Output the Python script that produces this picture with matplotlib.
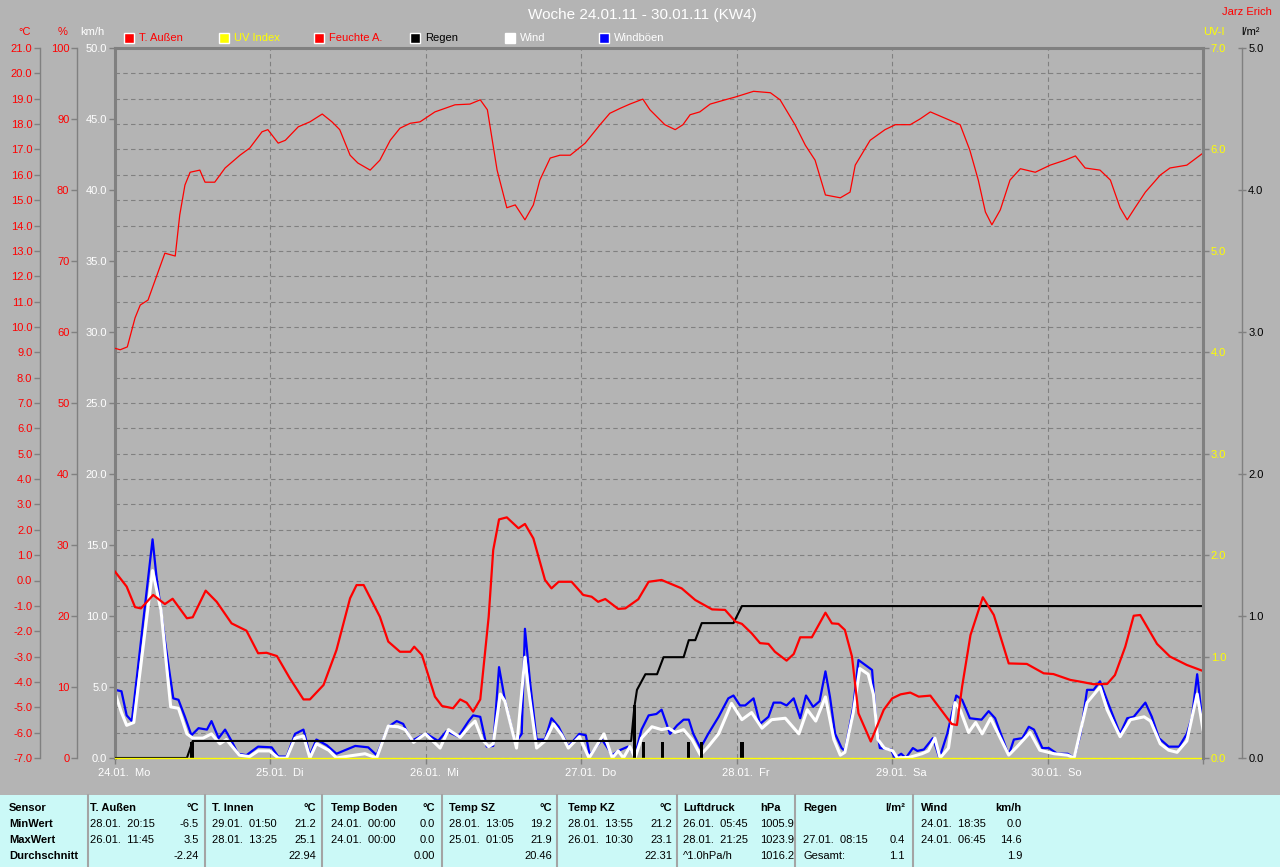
import numpy as np
import matplotlib
matplotlib.use("Agg")
import matplotlib.pyplot as plt
import matplotlib.transforms as mtransforms
from matplotlib.ticker import MultipleLocator, FormatStrFormatter
from matplotlib.patches import Rectangle

plt.rcParams['font.family'] = ['Liberation Sans', 'DejaVu Sans']

# ---- data (time axis: hours since 24.01. 00:00) ----
day_labels = ['24.01.  Mo', '25.01.  Di', '26.01.  Mi', '27.01.  Do',
              '28.01.  Fr', '29.01.  Sa', '30.01.  So']

temp_h = [0, 1.8, 3.1, 4, 5.9, 7.7, 8.9, 11.1, 12, 14,
          15.7, 18, 20.3, 22.1, 23.4, 25, 27, 29.1, 30.1, 32.2,
          34.2, 36.3, 37.3, 38.4, 40.9, 42.2, 44, 45.6, 46.2, 47.4,
          49.4, 50.5, 52.2, 53.3, 54.3, 55.3, 56.4, 57.7, 58.4, 59.3,
          60.5, 62.3, 63.3, 64.6, 66.4, 67.4, 68.5, 70.5, 72.3, 73.6,
          74.6, 75.7, 77.7, 78.8, 80.8, 82.4, 84.4, 87.5, 89.6, 92.2,
          94.2, 95.8, 96.8, 98.3, 99.6, 100.9, 101.9, 103.7, 104.8, 105.8,
          107.6, 109.7, 110.7, 111.7, 112.7, 113.8, 114.8, 116.7, 118.7, 120,
          121.3, 122.8, 124.1, 125.9, 127.2, 129.2, 130, 130.8, 132.1, 134,
          135.7, 138, 140.8, 143.4, 144.9, 147.5, 149.5, 151.1, 153.2, 154.4,
          156, 157.3, 158.3, 160.9, 162.9, 165.5, 167.8]
temp = [0.35, -0.24, -1.05, -1.1, -0.57, -0.93, -0.72, -1.49, -1.45, -0.40,
        -0.84, -1.69, -1.98, -2.87, -2.85, -2.98, -3.86, -4.69, -4.69, -4.12,
        -2.74, -0.70, -0.18, -0.18, -1.43, -2.41, -2.81, -2.81, -2.61, -2.94,
        -4.58, -4.95, -5.04, -4.69, -4.82, -5.17, -4.69, -1.43, 1.2, 2.41,
        2.49, 2.06, 2.23, 1.66, 0.02, -0.31, -0.05, -0.05, -0.57, -0.64,
        -0.84, -0.73, -1.12, -1.1, -0.74, -0.05, 0.02, -0.31, -0.77, -1.14,
        -1.16, -1.62, -1.71, -2.08, -2.47, -2.5, -2.81, -3.16, -2.9, -2.24,
        -2.24, -1.27, -1.69, -1.71, -1.95, -3.0, -5.24, -6.35, -5.1, -4.65,
        -4.49, -4.42, -4.58, -4.54, -4.98, -5.66, -5.7, -4.19, -2.15, -0.66,
        -1.36, -3.27, -3.29, -3.66, -3.69, -3.92, -4.01, -4.09, -4.08, -3.73,
        -2.61, -1.39, -1.36, -2.5, -3.0, -3.33, -3.55]

hum_h = [0, 0.8, 1.9, 3.1, 3.9, 5.1, 6.2, 7.7, 9.3, 10.0,
         10.8, 11.6, 13.1, 13.9, 15.4, 17.0, 19.3, 20.8, 22.7, 23.6,
         25.2, 26.3, 28.3, 30.1, 32.0, 33.5, 34.7, 36.3, 37.5, 39.4,
         40.9, 42.5, 44.0, 45.6, 47.1, 49.4, 52.5, 54.8, 56.4, 57.5,
         59.0, 60.5, 61.8, 63.3, 64.6, 65.6, 67.2, 68.7, 70.3, 72.6,
         74.9, 76.4, 78.0, 79.5, 81.5, 82.6, 84.9, 86.5, 87.7, 88.8,
         90.3, 91.9, 94.2, 95.8, 98.6, 101.2, 102.7, 105.0, 106.6, 108.1,
         109.7, 112.0, 113.5, 114.3, 116.6, 118.9, 120.5, 122.8, 124.3, 125.9,
         128.2, 130.5, 132.0, 133.3, 134.4, 135.4, 136.7, 138.2, 139.8, 142.1,
         144.4, 146.7, 148.3, 149.8, 152.1, 153.7, 155.2, 156.3, 157.5, 159.1,
         161.4, 162.9, 165.5, 168.0]
hum = [57.7, 57.5, 57.9, 62.0, 63.8, 64.5, 67.3, 71.1, 70.7, 76.5,
       80.7, 82.5, 82.8, 81.1, 81.1, 83.1, 84.9, 85.9, 88.2, 88.5,
       86.6, 87.0, 88.9, 89.6, 90.7, 89.6, 88.5, 84.9, 83.8, 82.8,
       84.2, 87.0, 88.7, 89.4, 89.6, 91.0, 92.0, 92.1, 92.7, 91.3,
       82.8, 77.5, 77.9, 75.8, 77.9, 81.4, 84.5, 84.9, 84.9, 86.6,
       89.2, 90.8, 91.5, 92.1, 92.8, 91.3, 89.2, 88.5, 89.2, 90.6,
       91.0, 92.1, 92.7, 93.1, 93.9, 93.7, 92.7, 89.2, 86.3, 84.2,
       79.3, 78.9, 79.7, 83.5, 87.0, 88.5, 89.2, 89.2, 90.0, 91.0,
       90.1, 89.2, 85.6, 81.4, 76.9, 75.1, 77.2, 81.4, 83.0, 82.5,
       83.5, 84.2, 84.8, 83.1, 82.8, 81.4, 77.5, 75.8, 77.5, 79.7,
       82.1, 83.1, 83.5, 85.2]

gust_h = [0, 1, 1.8, 2.6, 5.8, 6.4, 7.7, 9, 9.8, 10.8,
          11.8, 12.9, 14.2, 14.9, 16, 17, 18, 19, 20.3, 22.1,
          24.2, 25.2, 26.5, 27.8, 29.1, 30.1, 31.1, 32.7, 34.2, 37.1,
          39.1, 40.4, 42.2, 43.5, 44.5, 45.8, 47.4, 48.1, 49.9, 51.2,
          53, 54.6, 55.3, 56.4, 57.4, 58.4, 59.3, 60.2, 61.8, 62.8,
          63.3, 64.1, 65.1, 66.4, 67.4, 68.5, 70, 71.7, 72.7, 73.3,
          75.2, 76.8, 77.7, 79.2, 80.3, 81.3, 82.4, 83.6, 84.4, 85.7,
          86.8, 87.8, 88.6, 89.3, 90.4, 91.6, 93.2, 94.7, 95.5, 96.5,
          97.3, 98.6, 99.6, 100.9, 101.7, 102.8, 103.7, 104.8, 105.8, 106.7,
          107.8, 108.8, 109.7, 110.4, 111.2, 112.2, 112.7, 114, 114.8, 116.9,
          117.6, 118.1, 119.8, 120.4, 121.4, 122.1, 123.2, 123.9, 124.9, 126.3,
          127.3, 128.5, 129.9, 130.8, 132, 133.8, 134.9, 135.9, 138, 138.8,
          140.1, 141.1, 141.9, 143.2, 144.2, 145.5, 147.1, 148.1, 149.1, 150.1,
          151.1, 152.1, 153.4, 155.2, 156.3, 157.3, 159.1, 160.1, 161.2, 162.7,
          164.3, 165.5, 166.3, 167.1, 168]
gust = [4.8, 4.7, 3.0, 2.6, 15.4, 12.8, 8.3, 4.2, 4.1, 2.9,
        1.6, 2.1, 2.0, 2.6, 1.4, 2.0, 1.2, 0.3, 0.2, 0.8,
        0.75, 0.1, 0.1, 1.7, 2.0, 0.2, 1.3, 0.9, 0.3, 0.85,
        0.75, 0.2, 2.2, 2.6, 2.4, 1.2, 1.6, 1.7, 1.2, 1.9,
        1.5, 2.6, 3.0, 2.9, 0.8, 0.85, 6.4, 4.1, 1.05, 1.7,
        9.1, 5.3, 1.3, 1.3, 2.8, 2.2, 0.8, 1.7, 1.6, 0.2,
        1.3, 0.2, 0.5, 0.8, 0.2, 2.0, 3.0, 3.1, 3.4, 1.7,
        2.3, 2.7, 2.7, 1.7, 0.7, 1.7, 2.9, 4.2, 4.4, 3.7,
        3.7, 4.2, 2.4, 2.9, 3.9, 3.9, 3.7, 4.2, 2.8, 4.4,
        3.6, 4.0, 6.1, 4.3, 1.7, 0.7, 0.5, 3.6, 6.9, 6.2,
        2.2, 0.7, 0.6, 0, 0.3, 0, 0.7, 0.5, 0.6, 1.4,
        0, 1.7, 4.4, 4.1, 2.8, 2.7, 3.3, 2.8, 0.2, 1.3,
        1.4, 2.2, 2.0, 0.7, 0.7, 0.3, 0.3, 0, 1.7, 4.8,
        4.8, 5.4, 3.8, 1.7, 2.8, 2.9, 3.9, 2.9, 1.4, 0.8,
        0.8, 1.7, 2.9, 5.9, 2.2]

wind_h = [0, 1, 1.8, 2.9, 5.8, 7.1, 8.6, 9.8, 11.1, 12,
          13.6, 14.9, 16.2, 17.2, 19.2, 20.8, 22.1, 23.9, 25.2, 26.5,
          27.8, 29.1, 30.1, 31.1, 33, 34.2, 36.3, 38.6, 40.4, 42.2,
          43.7, 44.8, 46.1, 47.9, 50.2, 51.5, 53.3, 54.8, 55.6, 56.7,
          57.7, 58.4, 59.5, 60.2, 62, 63.3, 63.8, 65.1, 66.4, 67.7,
          69, 70, 71.7, 73.2, 75.5, 76.8, 77.7, 78.5, 79.5, 80.3,
          81.3, 82.9, 84.4, 85.5, 86.5, 87.8, 89.1, 90.4, 91.6, 93.2,
          95.2, 96.8, 98.3, 99.9, 101.4, 103.5, 105.6, 106.9, 108.2, 109.7,
          111, 112, 112.7, 114, 115, 116.3, 117.1, 117.8, 118.8, 120.1,
          120.8, 122.7, 124.6, 125.6, 126.6, 127.4, 128.7, 129.7, 130.5, 131.8,
          132.9, 133.9, 135.2, 138, 139.3, 141.3, 142.8, 145, 147.1, 148.1,
          150.1, 152.1, 153.2, 155.2, 156.8, 158.9, 159.9, 161.4, 162.7, 164,
          165.5, 167.1, 168]
wind = [4.6, 3.2, 2.3, 2.5, 13.2, 10.4, 3.6, 3.5, 1.7, 1.4,
        1.4, 1.7, 1.0, 1.3, 0.2, 0.1, 0.5, 0.5, 0, 0,
        1.4, 1.55, 0, 1.0, 0.55, 0, 0.15, 0.3, 0, 2.25,
        2.2, 2.0, 1.1, 1.7, 0.7, 2.0, 1.45, 2.25, 2.6, 1.3,
        0.8, 1.0, 4.5, 4.0, 0.7, 7.1, 5.0, 0.7, 1.2, 2.4,
        1.6, 0.7, 1.5, 0, 1.7, 0, 0.5, 0, 0.8, 0,
        1.4, 2.2, 2.0, 2.1, 1.8, 2.0, 1.3, 0.2, 0.8, 1.7,
        3.85, 2.7, 3.2, 2.1, 2.7, 2.8, 1.7, 3.4, 2.6, 4.3,
        1.3, 0.2, 0.4, 3.2, 6.3, 5.9, 4.5, 1.3, 0.7, 0.5,
        0, 0.05, 0.3, 0.5, 1.4, 0, 0.7, 3.9, 3.4, 1.8,
        2.5, 1.7, 2.8, 0.2, 0.8, 1.8, 0.55, 0.3, 0.2, 0,
        3.9, 5.0, 3.4, 1.5, 2.7, 2.9, 2.6, 1.0, 0.55, 0.4,
        1.2, 4.5, 2.0]

rain_cum_h = [0, 11.1, 12.0, 79.7, 80.2, 80.6, 81.9, 83.7, 84.7, 87.8,
              88.6, 89.6, 90.6, 95.5, 96.8, 168]
rain_cum = [0, 0, 0.12, 0.12, 0.36, 0.48, 0.59, 0.59, 0.71, 0.71,
            0.83, 0.83, 0.95, 0.95, 1.07, 1.07]
rain_bar_h = [11.9, 80.25, 81.6, 84.5, 88.5, 90.6, 96.8]
rain_bar = [0.11, 0.37, 0.11, 0.11, 0.11, 0.11, 0.11]

uv_h = [0, 168]
uv = [0, 0]

legend_labels = ['T. Außen', 'UV Index', 'Feuchte A.', 'Regen', 'Wind', 'Windböen']
legend_box = ['#ff0000', '#ffff00', '#ff0000', '#000000', '#ffffff', '#0000ff']
legend_text = ['#ff0000', '#ffff00', '#ff0000', '#000000', '#ffffff', '#ffffff']

row_labels = ['Sensor', 'MinWert', 'MaxWert', 'Durchschnitt']
tab_sensor = ['T. Außen', 'T. Innen', 'Temp Boden', 'Temp SZ', 'Temp KZ',
              'Luftdruck', 'Regen', 'Wind']
tab_unit = ['°C', '°C', '°C', '°C', '°C', 'hPa', 'l/m²', 'km/h']
tab_min_time = ['28.01.  20:15', '29.01.  01:50', '24.01.  00:00', '28.01.  13:05',
                '28.01.  13:55', '26.01.  05:45', '', '24.01.  18:35']
tab_min_val = ['-6.5', '21.2', '0.0', '19.2', '21.2', '1005.9', '', '0.0']
tab_max_time = ['26.01.  11:45', '28.01.  13:25', '24.01.  00:00', '25.01.  01:05',
                '26.01.  10:30', '28.01.  21:25', '27.01.  08:15', '24.01.  06:45']
tab_max_val = ['3.5', '25.1', '0.0', '21.9', '23.1', '1023.9', '0.4', '14.6']
tab_avg_note = ['', '', '', '', '', '^1.0hPa/h', 'Gesamt:', '']
tab_avg_val = ['-2.24', '22.94', '0.00', '20.46', '22.31', '1016.2', '1.1', '1.9']

# ---- figure ----
BG = '#b4b4b4'
GRID = '#808080'
W, H = 1280, 867
L, R, T, B = 115, 1203, 48, 758

fig = plt.figure(figsize=(W / 100, H / 100), dpi=100, facecolor=BG)

# overlay in pixel coordinates for header and table
ov = fig.add_axes([0, 0, 1, 1])
ov.set_xlim(0, W)
ov.set_ylim(H, 0)
ov.axis('off')

ax = fig.add_axes([L / W, 1 - B / H, (R - L) / W, (B - T) / H])
ax.set_facecolor(BG)
ax_r = ax.twinx()
ax_t = ax.twinx()
ax_h = ax.twinx()
ax_uv = ax.twinx()

ax.set_xlim(0, 168)
ax.set_ylim(0, 50)
ax_t.set_ylim(-7, 21)
ax_h.set_ylim(0, 100)
ax_uv.set_ylim(0, 7)
ax_r.set_ylim(0, 5)

for a in (ax, ax_r, ax_t, ax_h, ax_uv):
    for s in a.spines.values():
        s.set_visible(False)

# main km/h axis
ax.spines['left'].set_visible(True)
ax.spines['top'].set_visible(True)
for s in ('left', 'top'):
    ax.spines[s].set_color(GRID)
    ax.spines[s].set_linewidth(2.2)
ax.yaxis.set_major_locator(MultipleLocator(5))
ax.yaxis.set_major_formatter(FormatStrFormatter('%.1f'))
ax.yaxis.set_minor_locator(MultipleLocator(50 / 28))
ax.yaxis.remove_overlapping_locs = False
ax.tick_params(axis='y', which='major', direction='out', length=4, width=1,
               color=GRID, labelcolor='white', labelsize=8, pad=1.5)
ax.tick_params(axis='y', which='minor', length=0)
ax.grid(which='minor', axis='y', color=GRID, linestyle=(0, (4, 3)), linewidth=0.8)

ax.set_xticks(np.arange(0, 169, 24))
ax.set_xticklabels(day_labels + [''])
ax.grid(which='major', axis='x', color=GRID, linestyle=(0, (4, 3)), linewidth=0.8)
ax.tick_params(axis='x', direction='out', length=4, width=1, color=GRID,
               labelcolor='white', labelsize=8, pad=3)
shift = mtransforms.ScaledTranslation(0.09, 0, fig.dpi_scale_trans)
for lab in ax.get_xticklabels():
    lab.set_transform(lab.get_transform() + shift)

# temperature axis (far left)
ax_t.yaxis.tick_left()
ax_t.spines['left'].set_visible(True)
ax_t.spines['left'].set_position(('axes', (40 - L) / (R - L)))
ax_t.spines['left'].set_color(GRID)
ax_t.spines['left'].set_linewidth(1)
ax_t.yaxis.set_major_locator(MultipleLocator(1))
ax_t.yaxis.set_major_formatter(FormatStrFormatter('%.1f'))
ax_t.tick_params(axis='y', direction='out', length=4, width=1, color=GRID,
                 labelcolor='#ff0000', labelsize=8, pad=1.5)

# humidity axis
ax_h.yaxis.tick_left()
ax_h.spines['left'].set_visible(True)
ax_h.spines['left'].set_position(('axes', (77 - L) / (R - L)))
ax_h.spines['left'].set_color(GRID)
ax_h.spines['left'].set_linewidth(1)
ax_h.yaxis.set_major_locator(MultipleLocator(10))
ax_h.yaxis.set_major_formatter(FormatStrFormatter('%d'))
ax_h.tick_params(axis='y', direction='out', length=4, width=1, color=GRID,
                 labelcolor='#ff0000', labelsize=8, pad=1.5)

# UV axis (right edge of plot)
ax_uv.spines['right'].set_visible(True)
ax_uv.spines['right'].set_color(GRID)
ax_uv.spines['right'].set_linewidth(2.2)
ax_uv.yaxis.set_major_locator(MultipleLocator(1))
ax_uv.yaxis.set_major_formatter(FormatStrFormatter('%.1f'))
ax_uv.tick_params(axis='y', direction='out', length=4, width=1, color=GRID,
                  labelcolor='#ffff00', labelsize=8, pad=1.5)

# rain axis (far right)
ax_r.spines['right'].set_visible(True)
ax_r.spines['right'].set_position(('axes', (1242 - L) / (R - L)))
ax_r.spines['right'].set_color(GRID)
ax_r.spines['right'].set_linewidth(1)
ax_r.yaxis.set_major_locator(MultipleLocator(1))
ax_r.yaxis.set_major_formatter(FormatStrFormatter('%.1f'))
ax_r.tick_params(axis='y', direction='inout', length=6, width=1, color=GRID,
                 labelcolor='black', labelsize=8, pad=1.5)

# series
ax.plot(gust_h, gust, color='#0000ff', lw=1.6)
ax.plot(wind_h, wind, color='white', lw=2.2)
ax_r.bar(rain_bar_h, rain_bar, width=0.5, color='black')
ax_r.plot(rain_cum_h, rain_cum, color='black', lw=1.5)
ax_t.plot(temp_h, temp, color='#ff0000', lw=1.6)
ax_h.plot(hum_h, hum, color='#ff0000', lw=0.9)
ax_uv.plot(uv_h, uv, color='#ffff00', lw=1, clip_on=False)

# ---- header ----
ov.text(642, 15, 'Woche 24.01.11 - 30.01.11 (KW4)', color='white', fontsize=11,
        ha='center', va='center')
ov.text(1272, 12, 'Jarz Erich', color='#ff0000', fontsize=8, ha='right', va='center')
ov.text(25, 32, '°C', color='#ff0000', fontsize=8, ha='center', va='center')
ov.text(63, 32, '%', color='#ff0000', fontsize=8, ha='center', va='center')
ov.text(92, 32, 'km/h', color='white', fontsize=8, ha='center', va='center')
ov.text(1214, 32, 'UV-I', color='#ffff00', fontsize=8, ha='center', va='center')
ov.text(1250, 32, 'l/m²', color='black', fontsize=8, ha='center', va='center')

leg_x = [124, 219, 314, 410, 505, 599]
for x, lab, bc, tc in zip(leg_x, legend_labels, legend_box, legend_text):
    ov.add_patch(Rectangle((x, 33), 10, 10, facecolor=bc, edgecolor='white', lw=1))
    ov.text(x + 15, 38, lab, color=tc, fontsize=8, ha='left', va='center')

# ---- statistics table ----
ov.add_patch(Rectangle((0, 795), W, H - 795, facecolor='#cbf9f7', edgecolor='none'))
for x in [88, 205, 322, 442, 557, 677, 795, 913]:
    ov.plot([x, x], [795, H], color='#a4a4a4', lw=1.5)

row_y = [808, 824, 840, 856]
for y, lab in zip(row_y, row_labels):
    ov.text(9, y, lab, fontsize=8, fontweight='bold', ha='left', va='center')

col_left = [90, 212, 331, 449, 568, 683, 803, 921]
col_right = [199, 316, 435, 552, 672, 794, 905, 1022]
for i in range(len(tab_sensor)):
    xl, xr = col_left[i], col_right[i]
    ov.text(xl, row_y[0], tab_sensor[i], fontsize=8, fontweight='bold', ha='left', va='center')
    ux = xr - 13 if tab_unit[i] == 'hPa' else xr
    ov.text(ux, row_y[0], tab_unit[i], fontsize=8, fontweight='bold', ha='right', va='center')
    ov.text(xl, row_y[1], tab_min_time[i], fontsize=8, ha='left', va='center')
    ov.text(xr, row_y[1], tab_min_val[i], fontsize=8, ha='right', va='center')
    ov.text(xl, row_y[2], tab_max_time[i], fontsize=8, ha='left', va='center')
    ov.text(xr, row_y[2], tab_max_val[i], fontsize=8, ha='right', va='center')
    ov.text(xl, row_y[3], tab_avg_note[i], fontsize=8, ha='left', va='center')
    ov.text(xr, row_y[3], tab_avg_val[i], fontsize=8, ha='right', va='center')

fig.savefig('out.png', dpi=100, facecolor=fig.get_facecolor())
